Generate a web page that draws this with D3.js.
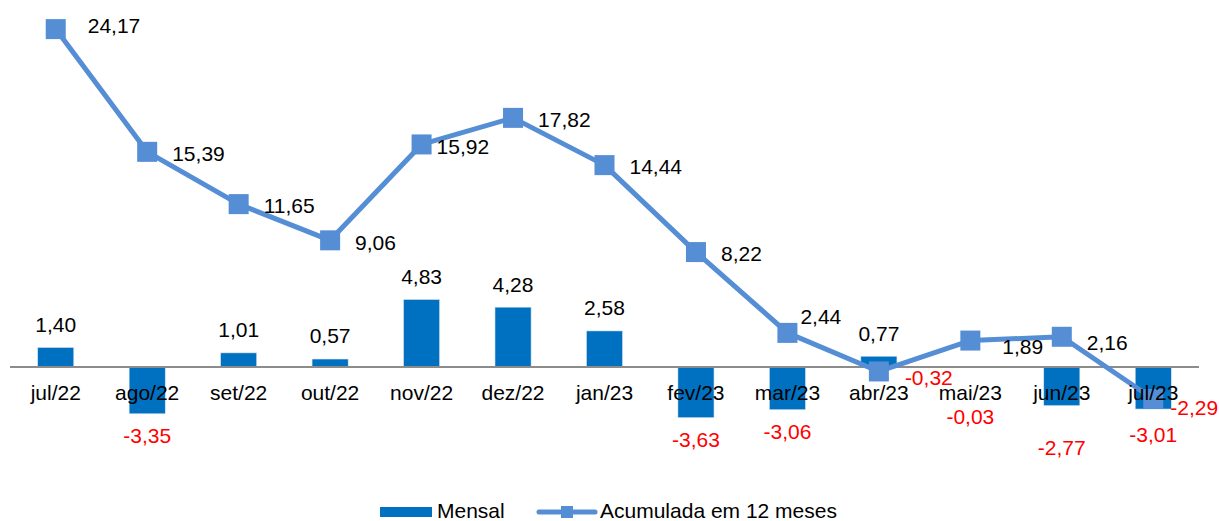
<!DOCTYPE html>
<html>
<head>
<meta charset="utf-8">
<script src="https://cdn.jsdelivr.net/npm/d3@7"></script>
<style>
  body { margin: 0; background: #fff; }
  text { font-family: "Liberation Sans", Arial, sans-serif; }
</style>
</head>
<body>
<script>
(function (d3) {
  'use strict';

  const months = ['jul/22', 'ago/22', 'set/22', 'out/22', 'nov/22', 'dez/22', 'jan/23',
    'fev/23', 'mar/23', 'abr/23', 'mai/23', 'jun/23', 'jul/23'];
  const mensal = [1.40, -3.35, 1.01, 0.57, 4.83, 4.28, 2.58, -3.63, -3.06, 0.77, -0.03, -2.77, -3.01];
  const acumulada = [24.17, 15.39, 11.65, 9.06, 15.92, 17.82, 14.44, 8.22, 2.44, -0.32, 1.89, 2.16, -2.29];

  const width = 1219;
  const height = 521;
  const barColor = '#0070C0';
  const lineColor = '#558ED5';
  const fontSize = 21;

  // label nudges, by month (Excel labels were dragged around a bit)
  const barNudge = { 'mai/23': 27, 'jun/23': 20, 'jul/23': 4 };
  const lineNudge = {
    'jul/22': [7, -5], 'nov/22': [-10, 0], 'mar/23': [-12, -18],
    'abr/23': [1, 4], 'mai/23': [7, 4], 'jun/23': [0, 4], 'jul/23': [-8, 7],
  };

  const fmt = (v) => v.toFixed(2).replace('.', ',');

  const svg = d3.select('body')
    .append('svg')
    .attr('width', width)
    .attr('height', height);

  const x = d3.scaleBand()
    .domain(months)
    .range([10, 1199])
    .padding(0);

  const y = d3.scaleLinear()
    .domain([-4, 25])
    .range([422.9, 17.5]);

  const barW = x.bandwidth() * 0.395;
  const cx = (m) => x(m) + x.bandwidth() / 2;

  // bars
  svg.append('g')
    .selectAll('rect')
    .data(months)
    .join('rect')
    .attr('x', (m) => cx(m) - barW / 2)
    .attr('width', barW)
    .attr('y', (m, i) => y(Math.max(0, mensal[i])))
    .attr('height', (m, i) => Math.abs(y(mensal[i]) - y(0)))
    .attr('fill', barColor)
    .attr('stroke', '#dbe8f5')
    .attr('stroke-width', 0.6);

  // zero axis
  svg.append('line')
    .attr('x1', x.range()[0])
    .attr('x2', x.range()[1])
    .attr('y1', y(0))
    .attr('y2', y(0))
    .attr('stroke', '#8c8c8c')
    .attr('stroke-width', 2);

  // line
  const line = d3.line()
    .x((d) => cx(d.m))
    .y((d) => y(d.v));
  const pts = months.map((m, i) => ({ m, v: acumulada[i] }));

  svg.append('path')
    .datum(pts)
    .attr('d', line)
    .attr('fill', 'none')
    .attr('stroke', lineColor)
    .attr('stroke-width', 5)
    .attr('stroke-linejoin', 'round');

  svg.append('g')
    .selectAll('rect')
    .data(pts)
    .join('rect')
    .attr('x', (d) => cx(d.m) - 10)
    .attr('y', (d) => y(d.v) - 10)
    .attr('width', 20)
    .attr('height', 20)
    .attr('fill', lineColor);

  // month labels
  svg.append('g')
    .selectAll('text')
    .data(months)
    .join('text')
    .attr('x', cx)
    .attr('y', y(0) + 26)
    .attr('dy', '0.35em')
    .attr('text-anchor', 'middle')
    .attr('font-size', fontSize)
    .attr('fill', '#000')
    .text((m) => m);

  // bar value labels
  svg.append('g')
    .selectAll('text')
    .data(months)
    .join('text')
    .attr('x', cx)
    .attr('y', (m, i) => mensal[i] >= 0
      ? y(mensal[i]) - 23
      : y(mensal[i]) + 22 + (barNudge[m] || 0))
    .attr('dy', '0.35em')
    .attr('text-anchor', 'middle')
    .attr('font-size', fontSize)
    .attr('fill', (m, i) => mensal[i] >= 0 ? '#000' : '#ff0000')
    .text((m, i) => fmt(mensal[i]));

  // line value labels
  svg.append('g')
    .selectAll('text')
    .data(pts)
    .join('text')
    .attr('x', (d) => cx(d.m) + 25 + (lineNudge[d.m] || [0, 0])[0])
    .attr('y', (d) => y(d.v) + 2 + (lineNudge[d.m] || [0, 0])[1])
    .attr('dy', '0.35em')
    .attr('font-size', fontSize)
    .attr('fill', (d) => d.v >= 0 ? '#000' : '#ff0000')
    .text((d) => fmt(d.v));

  // legend
  const lg = svg.append('g').attr('transform', 'translate(0,511)');
  lg.append('rect')
    .attr('x', 380).attr('y', -4).attr('width', 52).attr('height', 10)
    .attr('fill', barColor);
  lg.append('text')
    .attr('x', 437).attr('dy', '0.35em')
    .attr('font-size', fontSize)
    .text('Mensal');
  lg.append('line')
    .attr('x1', 539).attr('x2', 595)
    .attr('y1', 1).attr('y2', 1)
    .attr('stroke', lineColor).attr('stroke-width', 5)
    .attr('stroke-linecap', 'round');
  lg.append('rect')
    .attr('x', 561).attr('y', -5).attr('width', 12).attr('height', 12)
    .attr('fill', lineColor);
  lg.append('text')
    .attr('x', 600).attr('dy', '0.35em')
    .attr('font-size', fontSize)
    .text('Acumulada em 12 meses');

})(d3);
</script>
</body>
</html>
